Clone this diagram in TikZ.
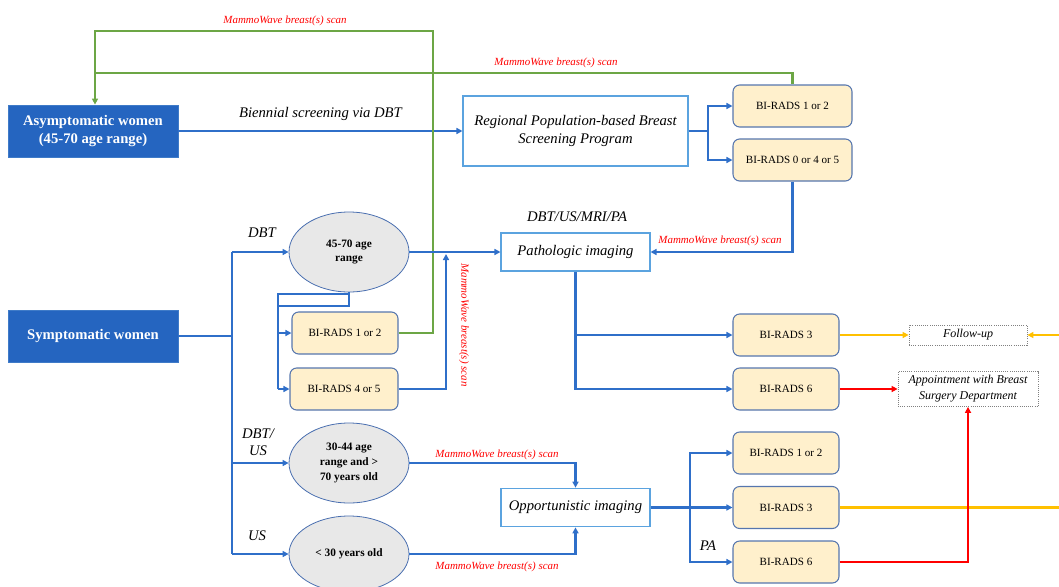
\documentclass[tikz,border=0pt]{standalone}
\usepackage{fontspec}
\setmainfont{Liberation Serif}
\usetikzlibrary{arrows.meta,shapes.geometric,calc}
\definecolor{lblue}{HTML}{2F6FC9}
\definecolor{dblue}{HTML}{2565C0}
\definecolor{dbord}{HTML}{3F7BC8}
\definecolor{wbord}{HTML}{5BA3DF}
\definecolor{bfill}{HTML}{FFF0CC}
\definecolor{bbord}{HTML}{5676AE}
\definecolor{efill}{HTML}{E8E8E8}
\definecolor{ebord}{HTML}{4A6FB0}
\definecolor{lgreen}{HTML}{6CA645}
\definecolor{lorange}{HTML}{FFC000}
\definecolor{lred}{HTML}{FF0000}
\tikzset{
  conn/.style={line width=1.6pt},
  bl/.style={conn, draw=lblue},
  gr/.style={conn, draw=lgreen},
  org/.style={conn, draw=lorange},
  rd/.style={conn, draw=lred},
  arr/.style={-{Triangle[length=4.5pt,width=4.5pt]}},
  darkbox/.style={draw=dbord, line width=0.6pt, fill=dblue, text=white, font=\fontsize{11}{14}\selectfont\bfseries, align=center, inner sep=0pt, minimum width=127.5pt, minimum height=39pt},
  whitebox/.style={draw=wbord, line width=0.8pt, fill=white, font=\fontsize{11}{14}\selectfont\itshape, align=center, inner sep=0pt},
  birads/.style={draw=bbord, line width=0.8pt, fill=bfill, rounded corners=5pt, font=\fontsize{8.3}{10}\selectfont, inner sep=0pt, minimum height=31.5pt},
  agee/.style={ellipse, draw=ebord, line width=0.6pt, fill=efill, font=\fontsize{8.5}{11.2}\selectfont\bfseries, align=center, inner sep=0pt, minimum width=90pt, minimum height=60pt},
  dotbox/.style={draw=gray, densely dotted, line width=0.6pt, fill=white, font=\fontsize{9}{12}\selectfont\itshape, align=center, inner sep=0pt},
  scan/.style={text=lred, font=\fontsize{8.2}{10}\selectfont\itshape, inner sep=0pt},
  lab/.style={font=\fontsize{11}{13}\selectfont\itshape, align=center, inner sep=0pt},
}
\begin{document}
\begin{tikzpicture}[x=0.75pt,y=-0.75pt]
\useasboundingbox (0,0) rectangle (1059,586);

% nodes
\node[darkbox] (asym) at (93,131) {Asymptomatic women\\(45-70 age range)};
\node[darkbox] (symp) at (93,336) {Symptomatic women};
\node[whitebox, minimum width=168.75pt, minimum height=52.5pt] (reg) at (575.5,131) {Regional Population-based Breast\\Screening Program};
\node[birads, minimum width=89.25pt] (tb12) at (792.5,106) {BI-RADS 1 or 2};
\node[birads, minimum width=89.25pt] (tb045) at (792.5,160) {BI-RADS 0 or 4 or 5};
\node[whitebox, minimum width=111.75pt, minimum height=28.5pt] (path) at (575.5,252) {Pathologic imaging};
\node[agee] (e1) at (349,252) {45-70 age\\range};
\node[birads, minimum width=79.5pt] (lb12) at (345,333) {BI-RADS 1 or 2};
\node[birads, minimum width=81pt] (lb45) at (344,389) {BI-RADS 4 or 5};
\node[agee] (e2) at (349,463) {30-44 age\\range and >\\70 years old};
\node[agee, minimum height=57pt] (e3) at (349,554) {< 30 years old};
\node[whitebox, minimum width=111.75pt, minimum height=29pt] (opp) at (575.5,507.5) {Opportunistic imaging};
\node[birads, minimum width=79.5pt] (mr3) at (786,335) {BI-RADS 3};
\node[birads, minimum width=79.5pt] (mr6) at (786,389) {BI-RADS 6};
\node[birads, minimum width=79.5pt] (lr12) at (786,453) {BI-RADS 1 or 2};
\node[birads, minimum width=79.5pt] (lr3) at (786,507.5) {BI-RADS 3};
\node[birads, minimum width=79.5pt] (lr6) at (786,562) {BI-RADS 6};
\node[dotbox, minimum width=88.5pt, minimum height=15pt] (fu) at (968,335) {Follow-up};
\node[dotbox, minimum width=105pt, minimum height=26.25pt] (app) at (968,389) {Appointment with Breast\\Surgery Department};

% helper coordinates
\coordinate (fork1) at (708,131);
\coordinate (gA) at (433,31);
\coordinate (gB) at (95,31);
\coordinate (gC) at (95,73);
\coordinate (s0) at (232,336);
\coordinate (s1) at (232,252);
\coordinate (s2) at (232,463);
\coordinate (s3) at (232,554);
\coordinate (r1) at (349,306);
\coordinate (r2) at (278,306);
\coordinate (r3) at (278,294);
\coordinate (r4) at (349,294);
\coordinate (r5) at (278,333);
\coordinate (r6) at (278,389);
\coordinate (m1) at (446,254);
\coordinate (fork2) at (690,507.5);
\coordinate (p1) at (575.5,335);
\coordinate (edge1) at (1059,335);
\coordinate (edge2) at (1059,507.5);

% top part
\draw[bl,arr] (asym.east) -- (reg.west) node[lab, midway, above=7pt] {Biennial screening via DBT};
\draw[bl] (reg.east) -- (fork1);
\draw[bl,arr] (fork1) |- (tb12.west);
\draw[bl,arr] (fork1) |- (tb045.west);
\draw[bl,arr] (tb045.south) |- (path.east);
\node[scan] (t1) at (720,241) {MammoWave breast(s) scan};

% green return
\draw[gr,arr] (lb12.east) -| (gA) -- (gB) -- (gB |- asym.north);
\draw[gr] (tb12.north) |- (gC);
\node[scan] (t2) at (285,21) {MammoWave breast(s) scan};
\node[scan] (t3) at (556,63) {MammoWave breast(s) scan};

% symptomatic fork
\draw[bl] (symp.east) -- (s0);
\draw[bl] (s1) -- (s3);
\draw[bl,arr] (s1) -- (e1.west);
\draw[bl,arr] (s2) -- (e2.west);
\draw[bl,arr] (s3) -- (e3.west);
\node[lab] (l1) at (262,233) {DBT};
\node[lab] (l2) at (258,442) {DBT/\\US};
\node[lab] (l3) at (257,536) {US};

% 45-70 branch
\draw[bl,arr] (e1.east) -- (path.west);
\node[lab] (l4) at (577,217) {DBT/US/MRI/PA};
\draw[bl] (e1.south) -- (r1) -- (r2);
\draw[bl] (r4) -- (r3) -- (r6);
\draw[bl,arr] (r5) -- (lb12.west);
\draw[bl,arr] (r6) -- (lb45.west);
\draw[bl,arr] (lb45.east) -| (m1);
\node[scan, rotate=-90] (t4) at (464,325) {MammoWave breast(s) scan};

% pathologic outcomes
\draw[bl,arr] (path.south) |- (mr6.west);
\draw[bl,arr] (p1) -- (mr3.west);
\draw[org,arr] (mr3.east) -- (fu.west);
\draw[org,arr] (edge1) -- (fu.east);
\draw[rd,arr] (mr6.east) -- (app.west);

% opportunistic
\draw[bl,arr] (e2.east) -| (opp.north);
\draw[bl,arr] (e3.east) -| (opp.south);
\node[scan] (t5) at (497,455) {MammoWave breast(s) scan};
\node[scan] (t6) at (497,567) {MammoWave breast(s) scan};
\draw[bl,arr] (opp.east) -- (lr3.west);
\draw[bl,arr] (fork2) |- (lr12.west);
\draw[bl,arr] (fork2) |- (lr6.west);
\node[lab] (l5) at (708,546) {PA};
\draw[org] (lr3.east) -- (edge2);
\draw[rd,arr] (lr6.east) -| (app.south);
\end{tikzpicture}
\end{document}
